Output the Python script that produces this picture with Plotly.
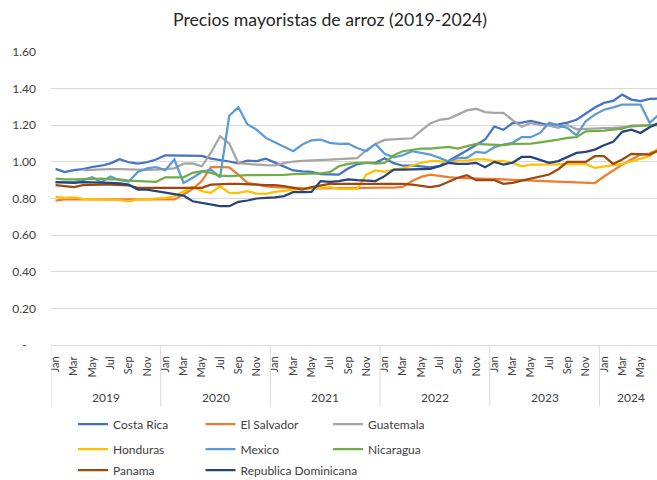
import plotly.graph_objects as go

# ---------------- data ----------------
month_names = ["Jan", "Feb", "Mar", "Apr", "May", "Jun", "Jul", "Aug", "Sep", "Oct", "Nov", "Dec"]
years = ["2019", "2020", "2021", "2022", "2023", "2024"]
months_per_year = [12, 12, 12, 12, 12, 7]

costa_rica = [
    0.962, 0.944, 0.955, 0.960, 0.972, 0.979, 0.992, 1.015, 0.998, 0.990, 0.998, 1.013,
    1.036, 1.036, 1.036, 1.036, 1.033, 1.018, 1.012, 1.002, 0.992, 1.007, 1.004, 1.017,
    0.996, 0.973, 0.953, 0.948, 0.945, 0.933, 0.930, 0.930, 0.964, 0.987, 0.994, 0.995,
    1.020, 0.993, 0.979, 0.980, 0.975, 0.970, 0.978, 1.006, 1.030, 1.062, 1.092, 1.122,
    1.193, 1.175, 1.212, 1.214, 1.224, 1.212, 1.200, 1.205, 1.214, 1.230, 1.265, 1.297,
    1.322, 1.333, 1.367, 1.340, 1.332, 1.344, 1.345,
]
el_salvador = [
    0.789, 0.795, 0.795, 0.795, 0.795, 0.795, 0.795, 0.793, 0.795, 0.795, 0.795, 0.793,
    0.791, 0.795, 0.822, 0.853, 0.895, 0.972, 0.972, 0.970, 0.931, 0.885, 0.877, 0.866,
    0.862, 0.860, 0.857, 0.856, 0.856, 0.856, 0.857, 0.857, 0.858, 0.858, 0.858, 0.860,
    0.860, 0.860, 0.863, 0.895, 0.918, 0.930, 0.922, 0.917, 0.913, 0.912, 0.910, 0.908,
    0.906, 0.904, 0.902, 0.900, 0.898, 0.896, 0.895, 0.893, 0.891, 0.889, 0.887, 0.884,
    0.920, 0.955, 0.985, 1.013, 1.040, 1.045, 1.070,
]
guatemala = [
    None, None, None, 0.955, 0.958, 0.959, 0.960, 0.960, 0.958, 0.955, 0.956, 0.958,
    0.960, 0.965, 0.990, 0.992, 0.976, 1.050, 1.140, 1.100, 0.993, 0.987, 0.985, 0.982,
    0.981, 0.993, 1.002, 1.006, 1.007, 1.008, 1.012, 1.015, 1.017, 1.020, 1.064, 1.098,
    1.120, 1.123, 1.124, 1.129, 1.170, 1.210, 1.230, 1.236, 1.258, 1.281, 1.290, 1.272,
    1.267, 1.267, 1.228, 1.192, 1.213, 1.200, 1.198, 1.186, 1.202, 1.178, 1.180, 1.184,
    1.185, 1.186, 1.189, 1.192, 1.195, 1.199, 1.204,
]
honduras = [
    0.809, 0.804, 0.806, 0.798, 0.796, 0.795, 0.795, 0.791, 0.785, 0.795, 0.795, 0.798,
    0.804, 0.813, 0.840, 0.864, 0.840, 0.831, 0.867, 0.831, 0.831, 0.840, 0.827, 0.825,
    0.836, 0.844, 0.849, 0.853, 0.855, 0.858, 0.862, 0.853, 0.853, 0.853, 0.930, 0.953,
    0.945, 0.958, 0.964, 0.980, 0.995, 1.004, 1.004, 0.995, 1.007, 1.007, 1.013, 1.013,
    1.004, 1.004, 0.995, 0.976, 0.985, 0.985, 0.985, 0.989, 0.989, 0.989, 0.989, 0.967,
    0.976, 0.982, 0.989, 1.004, 1.018, 1.031, 1.076,
]
mexico = [
    0.889, 0.889, 0.889, 0.900, 0.916, 0.889, 0.920, 0.900, 0.893, 0.945, 0.964, 0.971,
    0.955, 1.013, 0.885, 0.913, 0.945, 0.958, 0.915, 1.252, 1.298, 1.204, 1.176, 1.131,
    1.107, 1.085, 1.058, 1.095, 1.118, 1.122, 1.104, 1.098, 1.100, 1.076, 1.058, 1.098,
    1.044, 1.025, 1.036, 1.058, 1.049, 1.040, 1.022, 1.002, 1.022, 1.022, 1.055, 1.049,
    1.080, 1.095, 1.104, 1.135, 1.135, 1.158, 1.213, 1.200, 1.185, 1.145, 1.222, 1.258,
    1.285, 1.298, 1.313, 1.313, 1.313, 1.213, 1.258,
]
nicaragua = [
    0.909, 0.904, 0.904, 0.907, 0.909, 0.909, 0.904, 0.904, 0.898, 0.895, 0.891, 0.891,
    0.916, 0.916, 0.916, 0.940, 0.949, 0.940, 0.925, 0.922, 0.926, 0.928, 0.928, 0.928,
    0.925, 0.929, 0.933, 0.934, 0.936, 0.937, 0.944, 0.976, 0.989, 0.995, 0.995, 0.991,
    0.995, 1.036, 1.058, 1.067, 1.073, 1.073, 1.076, 1.082, 1.073, 1.085, 1.098, 1.095,
    1.095, 1.091, 1.098, 1.100, 1.100, 1.107, 1.113, 1.122, 1.131, 1.135, 1.167, 1.167,
    1.171, 1.176, 1.182, 1.198, 1.198, 1.198, 1.200,
]
panama = [
    0.873, 0.867, 0.862, 0.873, 0.876, 0.876, 0.876, 0.873, 0.871, 0.858, 0.858, 0.858,
    0.858, 0.858, 0.858, 0.858, 0.858, 0.876, 0.880, 0.880, 0.880, 0.876, 0.876, 0.873,
    0.873, 0.867, 0.858, 0.849, 0.862, 0.873, 0.880, 0.880, 0.880, 0.880, 0.884, 0.884,
    0.884, 0.880, 0.880, 0.876, 0.867, 0.862, 0.870, 0.891, 0.913, 0.927, 0.900, 0.900,
    0.900, 0.880, 0.885, 0.898, 0.909, 0.922, 0.931, 0.960, 1.000, 1.000, 1.000, 1.031,
    1.031, 0.989, 1.013, 1.044, 1.044, 1.040, 1.062,
]
rep_dominicana = [
    0.889, 0.885, 0.885, 0.889, 0.889, 0.889, 0.885, 0.882, 0.876, 0.849, 0.849, 0.840,
    0.831, 0.825, 0.816, 0.785, 0.776, 0.767, 0.758, 0.758, 0.782, 0.789, 0.800, 0.804,
    0.806, 0.813, 0.835, 0.835, 0.836, 0.895, 0.891, 0.895, 0.904, 0.900, 0.898, 0.895,
    0.922, 0.958, 0.958, 0.958, 0.960, 0.962, 0.976, 0.995, 0.989, 0.989, 0.995, 0.971,
    1.000, 0.985, 0.995, 1.027, 1.027, 1.013, 0.995, 1.004, 1.025, 1.049, 1.055, 1.067,
    1.091, 1.109, 1.164, 1.176, 1.158, 1.189, 1.213,
]

series_names = ["Costa Rica", "El Salvador", "Guatemala", "Honduras", "Mexico",
                "Nicaragua", "Panama", "Republica Dominicana"]
series_values = [costa_rica, el_salvador, guatemala, honduras, mexico,
                 nicaragua, panama, rep_dominicana]
colors = ["#4472C4", "#ED7D31", "#A5A5A5", "#FFC000", "#5B9BD5",
          "#70AD47", "#9E480E", "#264478"]
legend_rows = ["legend", "legend", "legend", "legend2", "legend2",
               "legend2", "legend3", "legend4"]

y_tickvals = [0, 0.2, 0.4, 0.6, 0.8, 1.0, 1.2, 1.4, 1.6]
y_ticktext = ["-\u00a0\u00a0\u00a0", "0.20", "0.40", "0.60", "0.80", "1.00", "1.20", "1.40", "1.60"]

# month index and labels
x_idx = []
x_lab = []
for yr, n in zip(years, months_per_year):
    for m in range(n):
        x_idx.append(len(x_idx))
        x_lab.append(month_names[m])

FONT = "Lato, 'Open Sans', sans-serif"
TXT = "#404040"

fig = go.Figure()
for name, vals, col, lg in zip(series_names, series_values, colors, legend_rows):
    fig.add_trace(go.Scatter(
        x=x_idx, y=vals, name=name, mode="lines",
        line=dict(color=col, width=2.25), legend=lg,
    ))

# year separators and labels
shapes = []
annotations = []
start = 0
for yr, n in zip(years, months_per_year):
    shapes.append(dict(type="line", xref="x", yref="paper",
                       x0=start - 0.5, x1=start - 0.5, y0=0, y1=-0.21,
                       line=dict(color="#D9D9D9", width=1)))
    annotations.append(dict(x=start + (n - 1) / 2, y=-0.1775, xref="x", yref="paper",
                            text=yr, showarrow=False, xanchor="center", yanchor="middle",
                            font=dict(family=FONT, size=12, color=TXT)))
    start += n

leg_common = dict(orientation="h", xref="container", yref="container",
                  xanchor="left", yanchor="middle", entrywidth=82.5,
                  font=dict(family=FONT, size=12, color=TXT),
                  bgcolor="rgba(0,0,0,0)", borderwidth=0)
leg_single = dict(orientation="h", xref="container", yref="container",
                  xanchor="left", yanchor="middle",
                  font=dict(family=FONT, size=12, color=TXT),
                  bgcolor="rgba(0,0,0,0)", borderwidth=0)

fig.update_layout(
    width=657, height=480,
    margin=dict(l=51, r=0, t=52, b=135, autoexpand=False),
    paper_bgcolor="white", plot_bgcolor="white",
    title=dict(text="Precios mayoristas de arroz (2019-2024)", x=330 / 657, xanchor="center",
               y=1 - 20 / 480, yanchor="middle",
               font=dict(family=FONT, size=17.7, color="#262626")),
    xaxis=dict(range=[-0.5, -0.5 + (657 - 51) / 9.14], tickvals=x_idx[::2], ticktext=x_lab[::2],
               tickangle=-90, showgrid=False, zeroline=False, showline=True,
               linecolor="#D9D9D9", linewidth=1, ticks="", ticklabelstandoff=6,
               tickfont=dict(family=FONT, size=11, color=TXT)),
    yaxis=dict(range=[0, 1.6], tickvals=y_tickvals, ticktext=y_ticktext,
               showgrid=True, gridcolor="#D9D9D9", gridwidth=1, zeroline=False,
               showline=False, ticks="", ticklabelstandoff=14,
               tickfont=dict(family=FONT, size=12, color=TXT)),
    shapes=shapes,
    annotations=annotations,
    legend=dict(x=73 / 657, y=1 - 424 / 480, **leg_common),
    legend2=dict(x=73 / 657, y=1 - 449 / 480, **leg_common),
    legend3=dict(x=73 / 657, y=1 - 470 / 480, **leg_single),
    legend4=dict(x=200.5 / 657, y=1 - 470 / 480, **leg_single),
    showlegend=True,
)

fig.write_html("out.html",
               config={"displayModeBar": False},
               post_script="document.body.style.margin='0px';document.body.style.overflow='hidden';")
